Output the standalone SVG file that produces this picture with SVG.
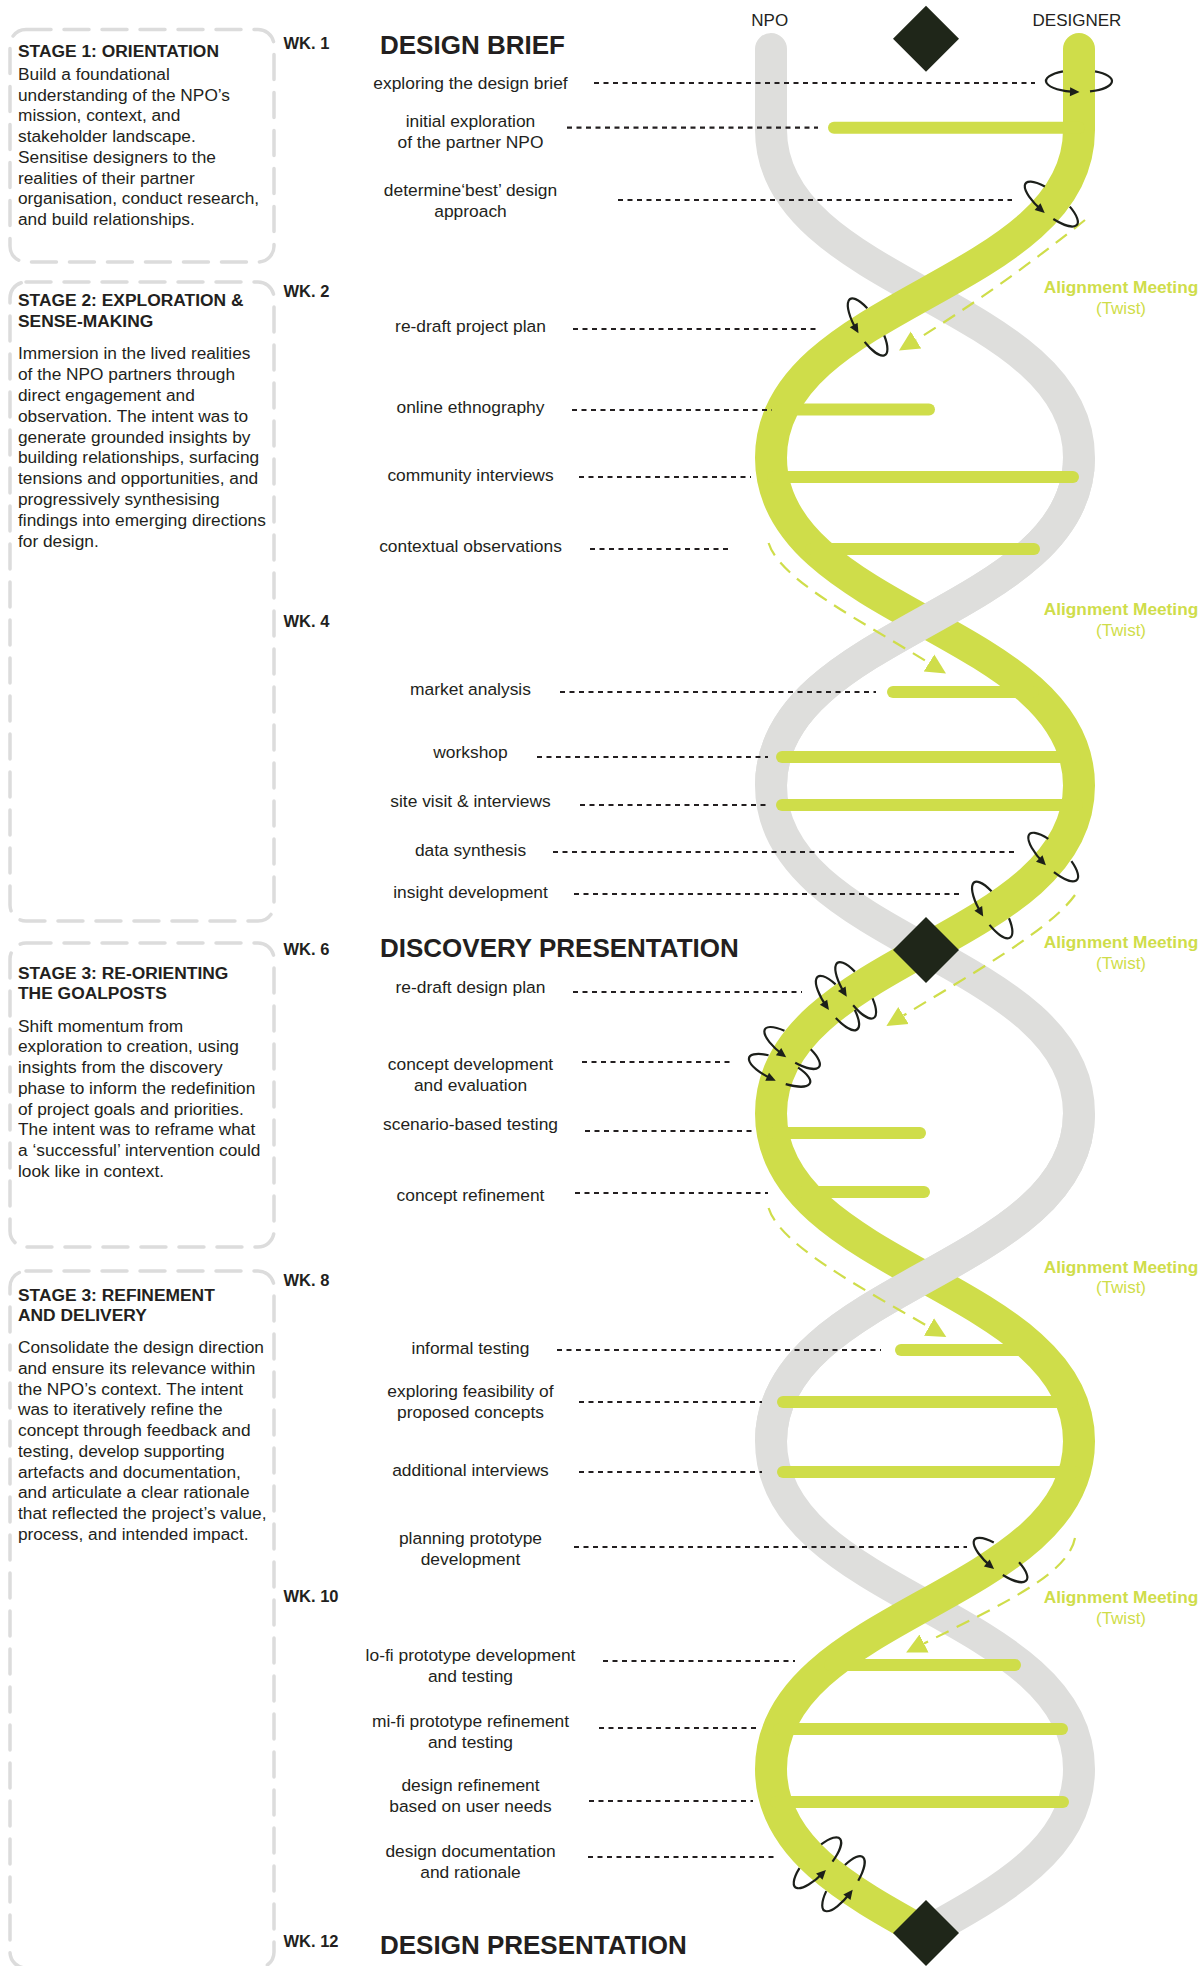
<svg xmlns="http://www.w3.org/2000/svg" width="1201" height="1966" viewBox="0 0 1201 1966">
  <defs>
    <style>
      .strand{fill:none;stroke-width:32}
      .npo{stroke:#dededc}
      .des{stroke:#cfdd4a}
      .rung{stroke:#cfdd4a;stroke-width:12;stroke-linecap:round}
      .lead{stroke:#231f20;stroke-width:2.2;stroke-dasharray:5 4.5;fill:none}
      .align{stroke:#cfdd4a;stroke-width:2.2;stroke-dasharray:14 9;fill:none;marker-end:url(#align-head)}
      .ring{fill:none;stroke:#1c1f1a;stroke-width:2.2}
      .box{fill:none;stroke:#dcdcdc;stroke-width:3.5;stroke-dasharray:25 13;stroke-linecap:round}
      .gem{fill:#1f2619}
      text{font-family:"Liberation Sans",Arial,Helvetica,sans-serif;fill:#231f20}
      .stage{font-weight:bold;font-size:17.4px}
      .body{font-size:17.3px}
      .wk{font-weight:bold;font-size:16.5px}
      .head{font-weight:bold;font-size:26px}
      .act{font-size:17.4px;text-anchor:middle}
      .side{font-size:17px;text-anchor:middle}
      .am{font-weight:bold;font-size:17.3px;fill:#cfdd4a;text-anchor:middle}
      .tw{font-size:17px;fill:#cfdd4a;text-anchor:middle}
    </style>
    <marker id="ring-head" markerUnits="userSpaceOnUse" viewBox="-7 -5 11 10" markerWidth="11" markerHeight="10" refX="0" refY="0" orient="auto">
      <path d="M-6,-4.5 L3.5,0 L-6,4.5 Z" fill="#1c1f1a"/>
    </marker>
    <marker id="align-head" markerUnits="userSpaceOnUse" viewBox="0 -11 22 22" markerWidth="22" markerHeight="22" refX="0" refY="0" orient="auto">
      <path d="M0,-10 L20,0 L0,10 Z" fill="#cfdd4a"/>
    </marker>
    <!-- twist ring wrapped around a strand: back part hidden behind the strand, arrow on the front -->
    <g id="ring">
      <path class="ring" d="M-16.04,-9.61 A33,11 0 0 0 -2.99,10.95" marker-end="url(#ring-head)"/>
      <path class="ring" d="M11.02,10.37 A33,11 0 0 0 16.04,-9.61"/>
    </g>
  </defs>

  <rect width="1201" height="1966" fill="#ffffff"/>

  <!-- stage panels -->
  <g id="stages">
    <g id="stage-1">
      <rect class="box" x="10" y="29.5" width="264" height="232.5" rx="16"/>
      <text class="stage" x="18" y="57.3">STAGE 1: ORIENTATION</text>
      <text class="body" x="18" y="80">
        <tspan x="18" dy="0">Build a foundational</tspan>
        <tspan x="18" dy="20.7">understanding of the NPO’s</tspan>
        <tspan x="18" dy="20.7">mission, context, and</tspan>
        <tspan x="18" dy="20.7">stakeholder landscape.</tspan>
        <tspan x="18" dy="20.7">Sensitise designers to the</tspan>
        <tspan x="18" dy="20.7">realities of their partner</tspan>
        <tspan x="18" dy="20.7">organisation, conduct research,</tspan>
        <tspan x="18" dy="20.7">and build relationships.</tspan>
      </text>
    </g>
    <g id="stage-2">
      <rect class="box" x="10" y="282" width="264" height="639" rx="16"/>
      <text class="stage" x="18" y="306">STAGE 2: EXPLORATION &amp;</text>
      <text class="stage" x="18" y="326.7">SENSE-MAKING</text>
      <text class="body" x="18" y="359.3">
        <tspan x="18" dy="0">Immersion in the lived realities</tspan>
        <tspan x="18" dy="20.8">of the NPO partners through</tspan>
        <tspan x="18" dy="20.8">direct engagement and</tspan>
        <tspan x="18" dy="20.8">observation. The intent was to</tspan>
        <tspan x="18" dy="20.8">generate grounded insights by</tspan>
        <tspan x="18" dy="20.8">building relationships, surfacing</tspan>
        <tspan x="18" dy="20.8">tensions and opportunities, and</tspan>
        <tspan x="18" dy="20.8">progressively synthesising</tspan>
        <tspan x="18" dy="20.8">findings into emerging directions</tspan>
        <tspan x="18" dy="20.8">for design.</tspan>
      </text>
    </g>
    <g id="stage-3">
      <rect class="box" x="10" y="943" width="264" height="304" rx="16"/>
      <text class="stage" x="18" y="979">STAGE 3: RE-ORIENTING</text>
      <text class="stage" x="18" y="999.3">THE GOALPOSTS</text>
      <text class="body" x="18" y="1031.7">
        <tspan x="18" dy="0">Shift momentum from</tspan>
        <tspan x="18" dy="20.7">exploration to creation, using</tspan>
        <tspan x="18" dy="20.7">insights from the discovery</tspan>
        <tspan x="18" dy="20.7">phase to inform the redefinition</tspan>
        <tspan x="18" dy="20.7">of project goals and priorities.</tspan>
        <tspan x="18" dy="20.7">The intent was to reframe what</tspan>
        <tspan x="18" dy="20.7">a ‘successful’ intervention could</tspan>
        <tspan x="18" dy="20.7">look like in context.</tspan>
      </text>
    </g>
    <g id="stage-4">
      <rect class="box" x="10" y="1271" width="264" height="697" rx="16"/>
      <text class="stage" x="18" y="1300.7">STAGE 3: REFINEMENT</text>
      <text class="stage" x="18" y="1321">AND DELIVERY</text>
      <text class="body" x="18" y="1353.3">
        <tspan x="18" dy="0">Consolidate the design direction</tspan>
        <tspan x="18" dy="20.7">and ensure its relevance within</tspan>
        <tspan x="18" dy="20.7">the NPO’s context. The intent</tspan>
        <tspan x="18" dy="20.7">was to iteratively refine the</tspan>
        <tspan x="18" dy="20.7">concept through feedback and</tspan>
        <tspan x="18" dy="20.7">testing, develop supporting</tspan>
        <tspan x="18" dy="20.7">artefacts and documentation,</tspan>
        <tspan x="18" dy="20.7">and articulate a clear rationale</tspan>
        <tspan x="18" dy="20.7">that reflected the project’s value,</tspan>
        <tspan x="18" dy="20.7">process, and intended impact.</tspan>
      </text>
    </g>
  </g>

  <!-- week markers -->
  <g id="weeks">
    <text class="wk" x="283.5" y="49">WK. 1</text>
    <text class="wk" x="283.5" y="296.7">WK. 2</text>
    <text class="wk" x="283.5" y="626.7">WK. 4</text>
    <text class="wk" x="283.5" y="955">WK. 6</text>
    <text class="wk" x="283.5" y="1285.5">WK. 8</text>
    <text class="wk" x="283.5" y="1602.3">WK. 10</text>
    <text class="wk" x="283.5" y="1946.7">WK. 12</text>
  </g>

  <!-- milestones -->
  <g id="milestones">
    <text class="head" x="380" y="54">DESIGN BRIEF</text>
    <text class="head" x="380" y="957">DISCOVERY PRESENTATION</text>
    <text class="head" x="380" y="1953.5">DESIGN PRESENTATION</text>
  </g>

  <!-- strand headers -->
  <g id="strand-labels">
    <text class="side" x="769.7" y="25.5">NPO</text>
    <text class="side" x="1077" y="25.5">DESIGNER</text>
  </g>

  <!-- double helix -->
  <g id="helix">
    <path id="npo-strand" class="strand npo" stroke-linecap="round" d="M771,49 L771,130 C771,287 1079,300.8 1079,457.8 C1079,614.8 771,628.6 771,785.6 C771,942.6 1079,956.4 1079,1113.4 C1079,1270.4 771,1284.2 771,1441.2 C771,1598.2 1079,1612 1079,1769 C1079,1847.5 1002,1890.2 925,1932.9"/>
    <path id="designer-strand" class="strand des" stroke-linecap="round" d="M1079,49 L1079,130 C1079,287 771,300.8 771,457.8 C771,614.8 1079,628.6 1079,785.6 C1079,942.6 771,956.4 771,1113.4 C771,1270.4 1079,1284.2 1079,1441.2 C1079,1598.2 771,1612 771,1769 C771,1847.5 848,1890.2 925,1932.9"/>
    <!-- NPO strand passes in front at these two crossings -->
    <path class="strand npo" d="M1079,457.8 C1079,614.8 771,628.6 771,785.6"/>
    <path class="strand npo" d="M1079,1113.4 C1079,1270.4 771,1284.2 771,1441.2"/>
  </g>

  <!-- rungs -->
  <g id="rungs">
    <line class="rung" x1="834" y1="127.7" x2="1079" y2="127.7"/>
    <line class="rung" x1="782" y1="409.5" x2="929" y2="409.5"/>
    <line class="rung" x1="773" y1="477" x2="1073" y2="477"/>
    <line class="rung" x1="811" y1="549" x2="1034" y2="549"/>
    <line class="rung" x1="893" y1="692" x2="1033" y2="692"/>
    <line class="rung" x1="782" y1="757" x2="1075" y2="757"/>
    <line class="rung" x1="782" y1="805" x2="1077" y2="805"/>
    <line class="rung" x1="773" y1="1133" x2="920" y2="1133"/>
    <line class="rung" x1="802" y1="1192" x2="924" y2="1192"/>
    <line class="rung" x1="901" y1="1350" x2="1035" y2="1350"/>
    <line class="rung" x1="783" y1="1402" x2="1072" y2="1402"/>
    <line class="rung" x1="783" y1="1472" x2="1075" y2="1472"/>
    <line class="rung" x1="830" y1="1665" x2="1015" y2="1665"/>
    <line class="rung" x1="779" y1="1729" x2="1062" y2="1729"/>
    <line class="rung" x1="776" y1="1802" x2="1063" y2="1802"/>
  </g>

  <!-- connectors: activity leaders and alignment-meeting twists -->
  <g id="connectors">
    <line class="lead" x1="594" y1="83" x2="1035" y2="83"/>
    <line class="lead" x1="567" y1="127.7" x2="818" y2="127.7"/>
    <line class="lead" x1="618" y1="200" x2="1012" y2="200"/>
    <line class="lead" x1="573" y1="329" x2="818" y2="329"/>
    <line class="lead" x1="572" y1="410" x2="772" y2="410"/>
    <line class="lead" x1="579" y1="477" x2="751" y2="477"/>
    <line class="lead" x1="590" y1="549" x2="730" y2="549"/>
    <line class="lead" x1="560" y1="692" x2="876" y2="692"/>
    <line class="lead" x1="537" y1="757" x2="768" y2="757"/>
    <line class="lead" x1="580" y1="805" x2="767" y2="805"/>
    <line class="lead" x1="553" y1="852" x2="1015" y2="852"/>
    <line class="lead" x1="574" y1="894" x2="960" y2="894"/>
    <line class="lead" x1="573" y1="992" x2="802" y2="992"/>
    <line class="lead" x1="582" y1="1062" x2="730" y2="1062"/>
    <line class="lead" x1="585" y1="1131" x2="755" y2="1131"/>
    <line class="lead" x1="575" y1="1193" x2="768" y2="1193"/>
    <line class="lead" x1="557" y1="1350" x2="881" y2="1350"/>
    <line class="lead" x1="579" y1="1402" x2="762" y2="1402"/>
    <line class="lead" x1="579" y1="1472" x2="762" y2="1472"/>
    <line class="lead" x1="574" y1="1547" x2="967" y2="1547"/>
    <line class="lead" x1="603" y1="1661" x2="795" y2="1661"/>
    <line class="lead" x1="599" y1="1728" x2="756" y2="1728"/>
    <line class="lead" x1="589" y1="1801" x2="753" y2="1801"/>
    <line class="lead" x1="588" y1="1857" x2="775" y2="1857"/>

    <path class="align" d="M1085,220 Q1000,288 916,340"/>
    <path class="align" d="M768.6,543 C780,580 860,620 929,663"/>
    <path class="align" d="M1075,895 C1050,930 970,975 903.5,1015.5"/>
    <path class="align" d="M768.6,1208 C780,1245 860,1287 929,1327"/>
    <path class="align" d="M1075,1538 C1068,1575 1000,1605 924,1643.5"/>
  </g>

  <!-- alignment meeting labels -->
  <g id="alignment-labels">
    <g id="alignment-1"><text class="am" x="1121" y="293">Alignment Meeting</text><text class="tw" x="1121" y="313.5">(Twist)</text></g>
    <g id="alignment-2"><text class="am" x="1121" y="615">Alignment Meeting</text><text class="tw" x="1121" y="635.5">(Twist)</text></g>
    <g id="alignment-3"><text class="am" x="1121" y="948.3">Alignment Meeting</text><text class="tw" x="1121" y="968.8">(Twist)</text></g>
    <g id="alignment-4"><text class="am" x="1121" y="1272.7">Alignment Meeting</text><text class="tw" x="1121" y="1293.2">(Twist)</text></g>
    <g id="alignment-5"><text class="am" x="1121" y="1603">Alignment Meeting</text><text class="tw" x="1121" y="1623.5">(Twist)</text></g>
  </g>

  <!-- twist rings -->
  <g id="twists">
    <use href="#ring" transform="translate(1079,81)"/>
    <use href="#ring" transform="translate(1051.3,204) rotate(39)"/>
    <use href="#ring" transform="translate(867.6,327) rotate(58)"/>
    <use href="#ring" transform="translate(1053.2,857) rotate(44)"/>
    <use href="#ring" transform="translate(992.2,910) rotate(57)"/>
    <use href="#ring" transform="translate(855.7,990.3) rotate(56.5)"/>
    <use href="#ring" transform="translate(837.5,1003) rotate(53.2)"/>
    <use href="#ring" transform="translate(792.1,1047.9) rotate(34.9)"/>
    <use href="#ring" transform="translate(779.6,1070.3) rotate(22.9)"/>
    <use href="#ring" transform="translate(1000.5,1560) rotate(38)"/>
    <use href="#ring" transform="translate(817.4,1862.8) rotate(-47.6)"/>
    <use href="#ring" transform="translate(843.4,1883.7) rotate(-54.4)"/>
  </g>

  <!-- milestone diamonds -->
  <g id="diamonds">
    <path id="diamond-brief" class="gem" d="M926,5.7 L959,38.7 L926,71.7 L893,38.7 Z"/>
    <path id="diamond-discovery" class="gem" d="M926,917 L959,950 L926,983 L893,950 Z"/>
    <path id="diamond-final" class="gem" d="M926,1900 L959,1933 L926,1966 L893,1933 Z"/>
  </g>

  <!-- activities -->
  <g id="activities">
    <g id="act-01"><text class="act" x="470.5" y="88.5">exploring the design brief</text></g>
    <g id="act-02"><text class="act" x="470.5" y="126.5">initial exploration</text><text class="act" x="470.5" y="147.5">of the partner NPO</text></g>
    <g id="act-03"><text class="act" x="470.5" y="196">determine‘best’ design</text><text class="act" x="470.5" y="216.5">approach</text></g>
    <g id="act-04"><text class="act" x="470.5" y="331.8">re-draft project plan</text></g>
    <g id="act-05"><text class="act" x="470.5" y="412.8">online ethnography</text></g>
    <g id="act-06"><text class="act" x="470.5" y="481">community interviews</text></g>
    <g id="act-07"><text class="act" x="470.5" y="551.8">contextual observations</text></g>
    <g id="act-08"><text class="act" x="470.5" y="695.3">market analysis</text></g>
    <g id="act-09"><text class="act" x="470.5" y="758">workshop</text></g>
    <g id="act-10"><text class="act" x="470.5" y="806.9">site visit &amp; interviews</text></g>
    <g id="act-11"><text class="act" x="470.5" y="855.8">data synthesis</text></g>
    <g id="act-12"><text class="act" x="470.5" y="898.4">insight development</text></g>
    <g id="act-13"><text class="act" x="470.5" y="992.8">re-draft design plan</text></g>
    <g id="act-14"><text class="act" x="470.5" y="1070.2">concept development</text><text class="act" x="470.5" y="1090.5">and evaluation</text></g>
    <g id="act-15"><text class="act" x="470.5" y="1130.2">scenario-based testing</text></g>
    <g id="act-16"><text class="act" x="470.5" y="1201.2">concept refinement</text></g>
    <g id="act-17"><text class="act" x="470.5" y="1353.8">informal testing</text></g>
    <g id="act-18"><text class="act" x="470.5" y="1397.2">exploring feasibility of</text><text class="act" x="470.5" y="1417.8">proposed concepts</text></g>
    <g id="act-19"><text class="act" x="470.5" y="1475.5">additional interviews</text></g>
    <g id="act-20"><text class="act" x="470.5" y="1543.8">planning prototype</text><text class="act" x="470.5" y="1564.5">development</text></g>
    <g id="act-21"><text class="act" x="470.5" y="1661.2">lo-fi prototype development</text><text class="act" x="470.5" y="1681.8">and testing</text></g>
    <g id="act-22"><text class="act" x="470.5" y="1727.2">mi-fi prototype refinement</text><text class="act" x="470.5" y="1747.8">and testing</text></g>
    <g id="act-23"><text class="act" x="470.5" y="1791.2">design refinement</text><text class="act" x="470.5" y="1811.8">based on user needs</text></g>
    <g id="act-24"><text class="act" x="470.5" y="1856.8">design documentation</text><text class="act" x="470.5" y="1877.8">and rationale</text></g>
  </g>
</svg>
